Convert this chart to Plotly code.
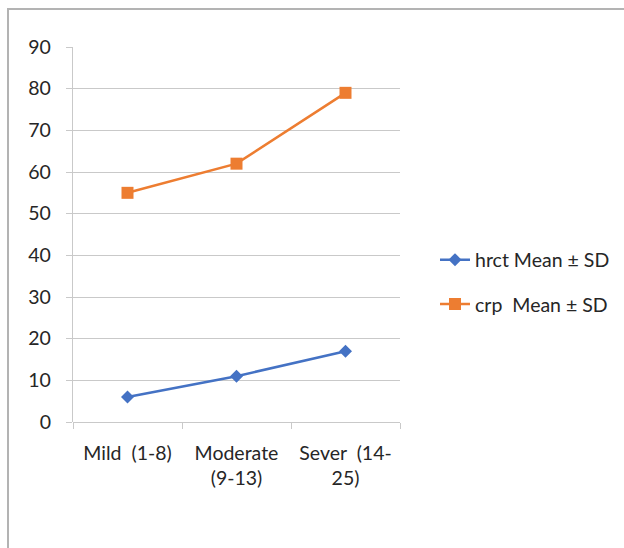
import plotly.graph_objects as go

# Severity groups and the two score series
categories = ["Mild  (1-8)", "Moderate<br>(9-13)", "Sever  (14-<br>25)"]
hrct_mean = [6, 11, 17]
crp_mean = [55, 62, 79]
y_ticks = [0, 10, 20, 30, 40, 50, 60, 70, 80, 90]

BLUE = "#4472C4"
ORANGE = "#ED7D31"
GRID = "#c9c9c9"
FONT = "Lato, Open Sans, sans-serif"
TEXT = "#262626"
FS = 19.5

fig = go.Figure()
fig.add_trace(go.Scatter(
    x=categories, y=hrct_mean, name="hrct Mean ± SD", mode="lines+markers",
    line=dict(color=BLUE, width=2.5),
    marker=dict(symbol="diamond", size=10, color=BLUE),
    legendgroup="a",
))
fig.add_trace(go.Scatter(
    x=categories, y=crp_mean, name="crp  Mean ± SD", mode="lines+markers",
    line=dict(color=ORANGE, width=2.5),
    marker=dict(symbol="square", size=12, color=ORANGE),
    legendgroup="b",
))

# Outer chart frame (runs past the right and bottom edges)
x0, x1 = 73, 400
y0, y1 = 422, 47
pw, ph = x1 - x0, y0 - y1
fig.add_shape(
    type="rect", xref="paper", yref="paper",
    x0=(8 - x0) / pw, x1=(640 - x0) / pw,
    y0=(y0 - 560) / ph, y1=(y0 - 9) / ph,
    line=dict(color="#b3b3b3", width=2), fillcolor="rgba(0,0,0,0)", layer="below",
)

fig.update_layout(
    width=624, height=548,
    margin=dict(l=x0, r=624 - x1, t=y1, b=548 - y0, pad=0, autoexpand=False),
    paper_bgcolor="white", plot_bgcolor="white",
    font=dict(family=FONT, size=FS, color=TEXT),
    showlegend=True,
    legend=dict(
        x=(435 - x0) / pw, xanchor="left",
        y=(y0 - 282) / ph, yanchor="middle",
        font=dict(family=FONT, size=FS, color=TEXT),
        tracegroupgap=16, bgcolor="rgba(0,0,0,0)",
    ),
    xaxis=dict(
        type="category", range=[-0.5, 2.5],
        showgrid=False, showline=False, zeroline=False,
        ticks="outside", tickson="boundaries", ticklen=6,
        tickcolor=GRID, tickwidth=1.3, ticklabelstandoff=17,
        tickfont=dict(family=FONT, size=FS, color=TEXT),
    ),
    yaxis=dict(
        range=[0, 90], tickvals=y_ticks,
        showgrid=True, gridcolor=GRID, gridwidth=1.3,
        showline=True, linecolor=GRID, linewidth=1.3,
        zeroline=True, zerolinecolor=GRID, zerolinewidth=1.3,
        ticks="outside", ticklen=6, tickcolor=GRID, tickwidth=1.3,
        ticklabelstandoff=11,
        tickfont=dict(family=FONT, size=FS, color=TEXT),
    ),
)

fig.write_html("out.html")
